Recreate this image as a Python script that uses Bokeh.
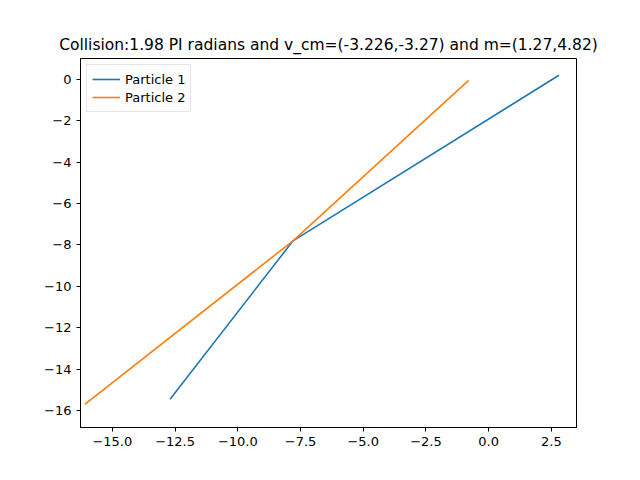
from bokeh.plotting import figure
from bokeh.models import Range1d, FixedTicker, Legend, LegendItem
from bokeh.embed import file_html
from bokeh.resources import INLINE

p1_x = [2.8, -7.8, -12.7]
p1_y = [0.2, -7.8, -15.45]
p2_x = [-0.8, -7.8, -16.1]
p2_y = [-0.05, -7.8, -15.7]

x_ticks = [-15.0, -12.5, -10.0, -7.5, -5.0, -2.5, 0.0, 2.5]
y_ticks = [0, -2, -4, -6, -8, -10, -12, -14, -16]

p = figure(width=624, height=464, output_backend="svg", toolbar_location=None,
           x_range=Range1d(-16.27, 3.5), y_range=Range1d(-16.82, 1.01),
           min_border_left=80, min_border_right=48, min_border_top=58, min_border_bottom=37,
           title="Collision:1.98 PI radians and v_cm=(-3.226,-3.27) and m=(1.27,4.82)")
p.title.text_font = "DejaVu Sans"
p.title.text_font_size = "15.5px"
p.title.text_font_style = "normal"
p.title.text_color = "black"
p.title.align = "center"
p.grid.visible = False
p.outline_line_color = "black"
for ax in (p.xaxis, p.yaxis):
    ax.major_label_text_font = "DejaVu Sans"
    ax.major_label_text_font_size = "13px"
    ax.major_label_text_color = "black"
    ax.minor_tick_line_color = None
    ax.major_tick_in = 0
    ax.major_tick_out = 4
p.xaxis.ticker = FixedTicker(ticks=x_ticks)
p.yaxis.ticker = FixedTicker(ticks=y_ticks)
p.xaxis.major_label_overrides = {t: f"{t:.1f}".replace("-", "−") for t in x_ticks}
p.yaxis.major_label_overrides = {t: str(t).replace("-", "−") for t in y_ticks}

r1 = p.line(p1_x, p1_y, line_color="#1f77b4", line_width=1.6)
r2 = p.line(p2_x, p2_y, line_color="#ff7f0e", line_width=1.6)
legend = Legend(items=[LegendItem(label="Particle 1", renderers=[r1]),
                       LegendItem(label="Particle 2", renderers=[r2])],
                location="top_left", label_text_font="DejaVu Sans",
                label_text_font_size="13px", label_text_color="black",
                border_line_color="#cccccc",
                spacing=0, padding=5, margin=6, glyph_width=28, label_height=18, glyph_height=18)
p.add_layout(legend)

open("out.html", "w").write(file_html(p, INLINE))
